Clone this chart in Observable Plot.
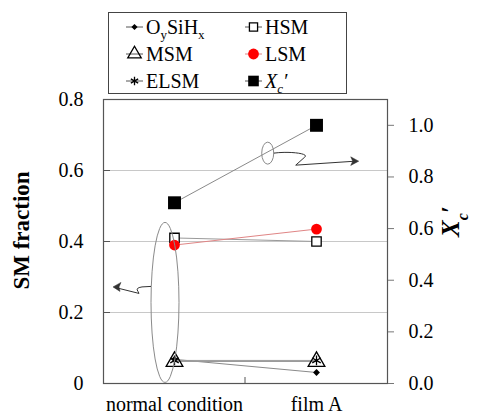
<!DOCTYPE html>
<html><head><meta charset="utf-8">
<script src="https://cdn.jsdelivr.net/npm/d3@7"></script>
<script src="https://cdn.jsdelivr.net/npm/@observablehq/plot@0.6"></script>
<style>
body{margin:0;background:#fff;}
#wrap{position:relative;width:477px;height:416px;font-family:'Liberation Serif',serif;}
#wrap svg.plot{position:absolute;left:0;top:0;}
#legend{position:absolute;left:108px;top:12px;width:239px;height:82px;border:1.4px solid #444;background:#fff;box-sizing:border-box;}
.item{position:absolute;font-family:'Liberation Serif',serif;font-size:20px;line-height:20px;display:flex;align-items:center;white-space:nowrap;color:#000;}
.item svg{margin-right:3px;overflow:visible}
.item sub{font-size:13px;vertical-align:-5px;line-height:0}
</style></head><body><div id="wrap"><div id="legend"></div></div>
<script>
// ---- data ----
const categories = ["normal condition", "film A"];
const oySiHx = [0.068, 0.031];
const hsm    = [0.410, 0.400];
const msm    = [0.062, 0.062];
const lsm    = [0.390, 0.435];
const elsm   = [0.065, 0.065];
const xcPrime = [0.70, 1.00];          // right axis
const leftTicks  = [0, 0.2, 0.4, 0.6, 0.8];
const rightTicks = [0, 0.2, 0.4, 0.6, 0.8, 1.0];
const gridTicks  = [0.2, 0.4, 0.6];
const leftMax = 0.8, rightMax = 1.1;
const yTitle = "SM fraction";
const y2Title = "Xc\u2032";

const toLeft = v => v * leftMax / rightMax;
const rowsOf = (arr, f = v => v) => categories.map((c, i) => ({cat: c, value: f(arr[i])}));

const series = [
  {key: "OySiHx", data: rowsOf(oySiHx), line: "#8a8a8a", symbol: "diamond2", r: 3.1, fill: "#000", stroke: "none",
   label: "O<sub>y</sub>SiH<sub>x</sub>", lr: 2.8},
  {key: "HSM", data: rowsOf(hsm), line: "#9a9a9a", symbol: "square", r: 5.3, fill: "#fff", stroke: "#000",
   label: "HSM", lr: 4.6},
  {key: "MSM", data: rowsOf(msm), line: "#9a9a9a", symbol: "triangle", r: 6.2, fill: "none", stroke: "#000",
   label: "MSM", lr: 5.0},
  {key: "LSM", data: rowsOf(lsm), line: "#e08585", symbol: "circle", r: 5.4, fill: "#ff0000", stroke: "none",
   label: "LSM", lr: 5.4},
  {key: "ELSM", data: rowsOf(elsm), line: "#9a9a9a", symbol: "asterisk", r: 4.6, fill: "none", stroke: "#000",
   label: "ELSM", lr: 4.0},
  {key: "Xc", data: rowsOf(xcPrime, toLeft), line: "#8a8a8a", symbol: "square", r: 7.3, fill: "#000", stroke: "none",
   label: "<i>X<sub>c</sub>\u2032</i>", lr: 6.0}
];

const font = "Liberation Serif";
const marks = [
  Plot.gridY(gridTicks, {stroke: "#c8c8c8", strokeOpacity: 1, strokeWidth: 1}),
  Plot.frame({stroke: "#555", strokeWidth: 1.2}),
  // left axis: inward ticks + labels
  Plot.axisY(leftTicks, {anchor: "left", tickSize: -7, tickFormat: () => "", label: null, stroke: "#555"}),
  Plot.axisY(leftTicks, {anchor: "left", tickSize: 0, tickPadding: 20, label: null, fontSize: 20, fontFamily: font,
    tickFormat: d => d === 0 ? "0" : d.toFixed(1)}),
  // right axis (Xc')
  Plot.axisY(rightTicks.map(toLeft), {anchor: "right", tickSize: 6, tickPadding: 15, label: null, fontSize: 20,
    fontFamily: font, stroke: "#777", tickFormat: d => (d * rightMax / leftMax).toFixed(1)}),
  // bottom axis labels
  Plot.axisX(categories, {anchor: "bottom", tickSize: 0, tickPadding: 13, label: null, fontSize: 20, fontFamily: font}),
  // titles
  Plot.text([yTitle], {text: d => d, frameAnchor: "left", textAnchor: "middle", dx: -82, dy: -11, rotate: -90,
    fontWeight: "bold", fontSize: 23, fontFamily: font}),
  Plot.text([y2Title], {text: d => d, frameAnchor: "right", textAnchor: "middle", dx: 63, dy: -20, rotate: -90,
    fontWeight: "bold", fontStyle: "italic", fontSize: 25, fontFamily: font})
];
// lines
for (const s of series) marks.push(Plot.line(s.data, {x: "cat", y: "value", stroke: s.line, strokeWidth: 1}));
// markers (HSM before LSM so the red dot sits on top)
for (const s of series) marks.push(Plot.dot(s.data, {x: "cat", y: "value", symbol: () => s.symbol, r: s.r,
  fill: s.fill, stroke: s.stroke, strokeWidth: 1.3}));

const chart = Plot.plot({
  width: 477, height: 416,
  marginTop: 99, marginBottom: 33, marginLeft: 103, marginRight: 90,
  x: {type: "band", domain: categories, padding: 0, axis: null},
  y: {domain: [0, leftMax], axis: null},
  symbol: {type: "identity"},
  style: {fontFamily: font, fontSize: "20px", color: "#000", background: "transparent", overflow: "visible"},
  marks
});
chart.classList.add("plot");
document.getElementById("wrap").prepend(chart);

// subscript for the right title
d3.select(chart).selectAll("text").filter(function(){ return this.textContent === y2Title; })
  .html('X<tspan baseline-shift="sub" font-size="16">c</tspan><tspan>\u2032</tspan>');

// ---- annotations & boundary tick, positioned from the scales ----
const xs = chart.scale("x"), ys = chart.scale("y");
const bw = xs.bandwidth;
const xN = xs.apply(categories[0]) + bw / 2, xA = xs.apply(categories[1]) + bw / 2;
const y0 = ys.apply(0);
const svg = d3.select(chart);
const g = svg.append("g").attr("fill", "none");
// band boundary tick on bottom axis
g.append("line").attr("x1", xs.apply(categories[1])).attr("x2", xs.apply(categories[1]))
  .attr("y1", y0).attr("y2", y0 - 6).attr("stroke", "#555");
// ellipse around normal-condition points
const ecx = xN - 9, ecy = ys.apply(0.227);
g.append("ellipse").attr("cx", ecx).attr("cy", ecy).attr("rx", 14).attr("ry", 80)
  .attr("stroke", "#8a8a8a").attr("stroke-width", 1);
const ax = ecx - 14, ay = ecy - 16;
g.append("path").attr("d", `M${ax},${ay} L${ax-9},${ay+0.5} Q${ax-16},${ay+1.5} ${ax-13},${ay+5} L${ax-12},${ay+7} L${ax-36},${ay+1}`)
  .attr("stroke", "#333").attr("stroke-width", 1);
g.append("path").attr("d", `M${ax-38},${ay+0.5} l8,-4.5 l-2,4.5 l1,4.5 z`).attr("fill", "#333").attr("stroke", "#333").attr("stroke-width", 0.5);
// small ellipse on the Xc' line
const t = 0.66;
const yXN = ys.apply(toLeft(xcPrime[0])), yXA = ys.apply(toLeft(xcPrime[1]));
const scx = xN + t * (xA - xN), scy = yXN + t * (yXA - yXN) + 2;
g.append("ellipse").attr("cx", scx).attr("cy", scy).attr("rx", 6).attr("ry", 11)
  .attr("stroke", "#8a8a8a").attr("stroke-width", 1);
const bx = scx + 6, by = scy;
g.append("path").attr("d", `M${bx},${by} C${bx+14},${by-2} ${bx+36},${by} ${bx+31},${by+4} L${bx+22},${by+12} L${bx+82},${by+8}`)
  .attr("stroke", "#333").attr("stroke-width", 1);
g.append("path").attr("d", `M${bx+85},${by+8} l-8,-4.3 l2,4.3 l-2,4.3 z`).attr("fill", "#333").attr("stroke", "#333").attr("stroke-width", 0.5);

// ---- legend ----
const symMap = {diamond2: d3.symbolDiamond2, square: d3.symbolSquare, triangle: d3.symbolTriangle,
  circle: d3.symbolCircle, asterisk: d3.symbolAsterisk};
const legend = document.getElementById("legend");
const pos = [[17, 4], [136, 4], [17, 31], [136, 31], [17, 58], [136, 58]];
series.forEach((s, i) => {
  const div = document.createElement("div");
  div.className = "item";
  div.style.left = pos[i][0] + "px";
  div.style.top = pos[i][1] + "px";
  const sz = Math.PI * s.lr * s.lr;
  const p = d3.symbol(symMap[s.symbol], sz)();
  div.innerHTML = `<svg width="17" height="16" viewBox="-8.5 -8 17 16"><line x1="-8.5" x2="8.5" y1="0" y2="0" stroke="${s.key==='LSM'?'#e08585':'#555'}" stroke-width="1"/>` +
    `<path d="${p}" fill="${s.fill}" stroke="${s.stroke}" stroke-width="1.3"/></svg><span>${s.label}</span>`;
  legend.appendChild(div);
});
</script></body></html>
